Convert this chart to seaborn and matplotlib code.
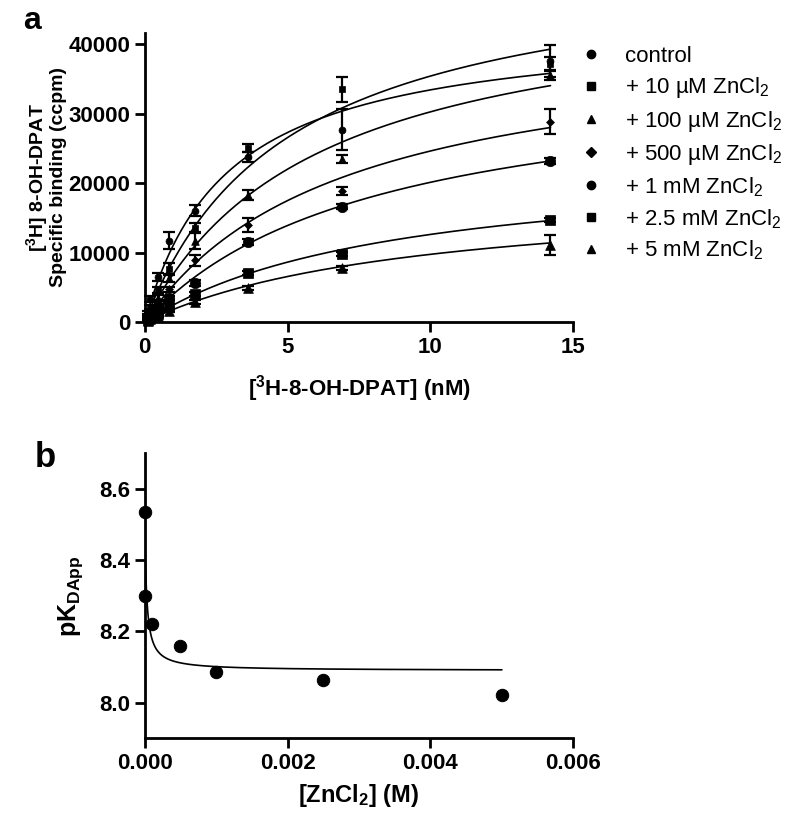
"""Saturation binding of [3H]8-OH-DPAT with ZnCl2 (a) and pK_DApp vs [ZnCl2] (b)."""

import numpy as np
import pandas as pd
import matplotlib
matplotlib.use("Agg")
import matplotlib.pyplot as plt
import seaborn as sns

# --- data -------------------------------------------------------------------
conc_nM = [0.1, 0.2, 0.45, 0.85, 1.75, 3.6, 6.9, 14.2]

series_labels = ["control", "+ 10 \u00b5M ZnCl$_2$", "+ 100 \u00b5M ZnCl$_2$",
                 "+ 500 \u00b5M ZnCl$_2$", "+ 1 mM ZnCl$_2$",
                 "+ 2.5 mM ZnCl$_2$", "+ 5 mM ZnCl$_2$"]

bind_control = [1300, 3300, 6500, 11700, 16000, 23800, 27700, 37600]
bind_10uM = [1000, 2100, 4600, 7600, 13500, 25000, 33500, 37200]
bind_100uM = [800, 1600, 3500, 6300, 11700, 18300, 23500, 35500]
bind_500uM = [600, 1200, 2700, 4700, 8900, 14000, 18900, 28800]
bind_1mM = [450, 900, 2000, 3500, 5650, 11500, 16600, 23200]
bind_2_5mM = [280, 550, 1200, 2300, 4000, 7000, 9800, 14700]
bind_5mM = [200, 400, 900, 1600, 2900, 4900, 7800, 11100]

err_control = [300, 400, 600, 1200, 800, 700, 3000, 2300]
err_10uM = [200, 300, 400, 900, 700, 600, 1800, 1000]
err_100uM = [200, 300, 400, 600, 1200, 700, 600, 600]
err_500uM = [100, 200, 300, 400, 800, 1000, 600, 1800]
err_1mM = [100, 200, 200, 300, 400, 400, 400, 400]
err_2_5mM = [100, 100, 200, 300, 300, 300, 300, 300]
err_5mM = [100, 100, 200, 200, 300, 300, 300, 1400]

# one-site fit parameters per series
bmax_fit = [43100, 53100, 48400, 41600, 36400, 23450, 19000]
kd_fit = [2.9, 5.0, 6.0, 6.9, 8.1, 8.6, 9.5]

zn_M = [0.0, 0.00001, 0.0001, 0.0005, 0.001, 0.0025, 0.005]
pkd_app = [8.535, 8.30, 8.222, 8.16, 8.087, 8.065, 8.022]

# allosteric fit: pKd0, log10(alpha), K_A (M)
pkd0_fit = 8.55
log_alpha_fit = 0.46
ka_fit = 1.4e-5

# --- style ------------------------------------------------------------------
sns.set_theme(style="ticks")
plt.rcParams["font.family"] = ["Liberation Sans", "DejaVu Sans"]
plt.rcParams["mathtext.default"] = "regular"
plt.rcParams["axes.linewidth"] = 2.0
for key in ("text.color", "axes.labelcolor", "xtick.color", "ytick.color",
            "axes.edgecolor"):
    plt.rcParams[key] = "black"

all_bind = [bind_control, bind_10uM, bind_100uM, bind_500uM,
            bind_1mM, bind_2_5mM, bind_5mM]
all_err = [err_control, err_10uM, err_100uM, err_500uM,
           err_1mM, err_2_5mM, err_5mM]
markers = ["o", "s", "^", "D", "o", "s", "^"]
msizes = [5.0, 5.0, 5.5, 4.0, 7.5, 7.0, 7.0]

fig = plt.figure(figsize=(7.88, 8.14), dpi=100)
ax_a = fig.add_axes([0.1836, 0.6044, 0.5440, 0.3551])
ax_b = fig.add_axes([0.1836, 0.0930, 0.5440, 0.3501])

# --- panel a ----------------------------------------------------------------
frames = []
for label, y, e in zip(series_labels, all_bind, all_err):
    frames.append(pd.DataFrame({"conc": conc_nM, "binding": y, "err": e,
                                "series": label}))
df = pd.concat(frames, ignore_index=True)

x_fit = np.linspace(0, max(conc_nM), 300)
handles = []
for label, bmax, kd, mk, ms in zip(series_labels, bmax_fit, kd_fit,
                                   markers, msizes):
    sub = df[df["series"] == label]
    sns.lineplot(x=x_fit, y=bmax * x_fit / (kd + x_fit), ax=ax_a,
                 color="black", lw=1.2)
    ax_a.errorbar(sub["conc"], sub["binding"], yerr=sub["err"], fmt="none",
                  ecolor="black", elinewidth=1.6, capsize=4, capthick=1.6,
                  clip_on=False)
    sns.scatterplot(data=sub, x="conc", y="binding", ax=ax_a, marker=mk,
                    s=ms ** 2, color="black", edgecolor="black",
                    linewidth=0.5, clip_on=False, zorder=3)
    handles.append(plt.Line2D([], [], ls="none", marker=mk, color="black",
                              markersize=6 if mk != "D" else 5))

ax_a.set_xlim(0, 15)
ax_a.set_ylim(0, 41600)
ax_a.set_xticks([0, 5, 10, 15])
ax_a.set_yticks([0, 10000, 20000, 30000, 40000])
ax_a.set_xlabel("[$^3$H-8-OH-DPAT] (nM)", fontsize=16, fontweight="bold",
                labelpad=11)
ax_a.set_ylabel("[$^3$H] 8-OH-DPAT\nSpecific binding (ccpm)", fontsize=14,
                fontweight="bold", labelpad=1, linespacing=1.0)
ax_a.legend(handles, series_labels, loc="upper left",
            bbox_to_anchor=(0.99, 0.985), frameon=False, fontsize=16,
            handletextpad=0.9, labelspacing=0.37, handlelength=1.2,
            borderaxespad=0.0)
fig.text(0.029, 1 - 29 / 814, "a", fontsize=23, fontweight="bold",
         va="baseline", ha="left")

# --- panel b ----------------------------------------------------------------
df_b = pd.DataFrame({"zn": zn_M, "pkd": pkd_app})
zn_fit = np.concatenate([[0.0], np.geomspace(1e-8, max(zn_M), 500)])
pkd_fit = pkd0_fit - np.log10((1 + zn_fit / ka_fit) /
                              (1 + zn_fit / (10 ** log_alpha_fit * ka_fit)))
sns.lineplot(x=zn_fit, y=pkd_fit, ax=ax_b, color="black", lw=1.2)
sns.scatterplot(data=df_b, x="zn", y="pkd", ax=ax_b, s=80, color="black",
                edgecolor="black", clip_on=False, zorder=3)

ax_b.set_xlim(0, 0.006)
ax_b.set_ylim(7.9, 8.7)
ax_b.set_xticks([0, 0.002, 0.004, 0.006])
ax_b.set_xticklabels(["0.000", "0.002", "0.004", "0.006"])
ax_b.set_yticks([8.0, 8.2, 8.4, 8.6])
ax_b.set_yticklabels(["8.0", "8.2", "8.4", "8.6"])
ax_b.set_xlabel("[ZnCl$_2$] (M)", fontsize=17, fontweight="bold", labelpad=6)
ax_b.set_ylabel("pK$_{DApp}$", fontsize=18, fontweight="bold", labelpad=10)
fig.text(0.044, 1 - 467 / 814, "b", fontsize=25, fontweight="bold",
         va="baseline", ha="left")

for ax in (ax_a, ax_b):
    sns.despine(ax=ax)
    ax.tick_params(width=2, length=7, labelsize=16, color="black")
    for lbl in ax.get_xticklabels() + ax.get_yticklabels():
        lbl.set_fontweight("bold")

fig.savefig("out.png", dpi=100)
